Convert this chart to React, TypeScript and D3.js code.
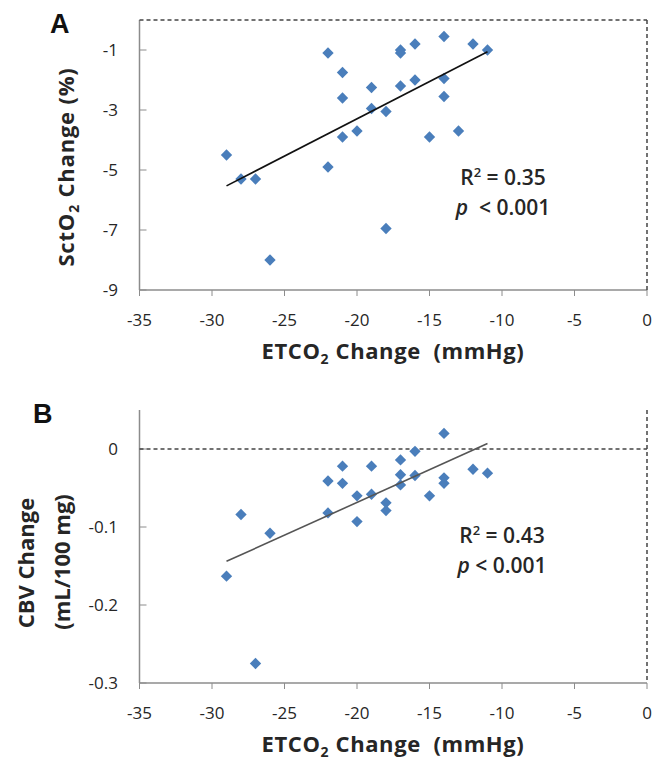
import React from "react";
import * as d3 from "d3";

// ---- data ----
const xTicks = [-35, -30, -25, -20, -15, -10, -5, 0];

const aX = [-29, -28, -27, -26, -22, -22, -21, -21, -21, -20, -19, -19, -18, -18, -17, -17, -17, -16, -16, -15, -14, -14, -14, -13, -12, -11];
const aY = [-4.5, -5.3, -5.3, -8.0, -1.1, -4.9, -1.75, -2.6, -3.9, -3.7, -2.25, -2.95, -3.05, -6.95, -1.0, -1.1, -2.2, -0.8, -2.0, -3.9, -0.55, -1.95, -2.55, -3.7, -0.8, -1.0];
const aTrendX = [-29, -11];
const aTrendY = [-5.53, -1.06];
const aYTicks = [-1, -3, -5, -7, -9];

const bX = [-29, -28, -27, -26, -22, -22, -21, -21, -20, -20, -19, -19, -18, -18, -17, -17, -17, -16, -16, -15, -14, -14, -14, -12, -11];
const bY = [-0.163, -0.084, -0.275, -0.108, -0.041, -0.082, -0.022, -0.044, -0.06, -0.093, -0.022, -0.058, -0.069, -0.079, -0.014, -0.033, -0.046, -0.003, -0.034, -0.06, 0.02, -0.037, -0.044, -0.026, -0.031];
const bTrendX = [-29, -11];
const bTrendY = [-0.144, 0.007];
const bYTicks = [0, -0.1, -0.2, -0.3];
const bYLabels = ["0", "-0.1", "-0.2", "-0.3"];

const BLUE = "#4a7ebb";
const AXIS = "#8c8c8c";
const TXT = "#262626";
const FONT = "'Open Sans', Lato, sans-serif";

type PanelProps = {
  letter: string;
  top: number;
  bottom: number;
  yDomain: [number, number];
  yTicks: number[];
  yLabels: string[];
  xs: number[];
  ys: number[];
  tx: number[];
  ty: number[];
  trendColor: string;
  r2: string;
  pGap: string;
  annoX: number;
  annoY: number;
  yTitle: React.ReactNode;
  letterY: number;
  letterX: number;
};

const left = 139.5;
const right = 647;

function Panel(p: PanelProps) {
  const x = d3.scaleLinear().domain([-35, 0]).range([left, right]);
  const y = d3.scaleLinear().domain(p.yDomain).range([p.bottom, p.top]);
  const diamond = d3.symbol(d3.symbolSquare, 64)() as string;
  const line = d3.line<number>().x((_, i) => x(p.tx[i])).y((d) => y(d));
  const zeroY = y(0);
  return (
    <g>
      <text x={p.letterX} y={p.letterY} fontFamily="'Liberation Sans', Arial, sans-serif" fontWeight="bold" fontSize={27} fill="#111">
        {p.letter}
      </text>
      {/* y axis */}
      <line x1={left} x2={left} y1={p.top} y2={p.bottom} stroke={AXIS} strokeWidth={1.5} />
      {p.yTicks.map((t, i) => (
        <g key={i}>
          <line x1={left} x2={left + 7} y1={y(t)} y2={y(t)} stroke={AXIS} strokeWidth={1} />
          <text x={118} y={y(t) + 6} textAnchor="end" fontFamily={FONT} fontSize={17} fill={TXT}>
            {p.yLabels[i]}
          </text>
        </g>
      ))}
      {/* x axis */}
      <line x1={left} x2={right} y1={p.bottom} y2={p.bottom} stroke={AXIS} strokeWidth={1.5} />
      {xTicks.map((t) => (
        <g key={t}>
          <line x1={x(t)} x2={x(t)} y1={p.bottom} y2={p.bottom + 6} stroke={AXIS} strokeWidth={1} />
          <text x={x(t)} y={p.bottom + 36} textAnchor="middle" fontFamily={FONT} fontSize={17} fill={TXT}>
            {t}
          </text>
        </g>
      ))}
      {/* dashed zero lines */}
      <line x1={left} x2={right} y1={zeroY} y2={zeroY} stroke="#444" strokeWidth={1.5} strokeDasharray="4,3" />
      <line x1={x(0)} x2={x(0)} y1={p.top} y2={p.bottom} stroke="#444" strokeWidth={1.5} strokeDasharray="4,3" />
      {/* points */}
      {p.xs.map((v, i) => (
        <path key={i} d={diamond} transform={`translate(${x(v)},${y(p.ys[i])}) rotate(45)`} fill={BLUE} />
      ))}
      {/* trend */}
      <path d={line(p.ty) as string} stroke={p.trendColor} strokeWidth={1.6} fill="none" />
      {/* annotation */}
      <text x={p.annoX} y={p.annoY} textAnchor="middle" fontFamily={FONT} fontWeight={600} fontSize={21} fill={TXT} xmlSpace="preserve">
        R<tspan dy={-8} fontSize={13}>2</tspan>
        <tspan dy={8}>{" = " + p.r2}</tspan>
      </text>
      <text x={p.annoX} y={p.annoY + 30} textAnchor="middle" fontFamily={FONT} fontWeight={600} fontSize={21} fill={TXT} xmlSpace="preserve">
        <tspan fontStyle="italic">p</tspan>{p.pGap + "< 0.001"}
      </text>
      {/* x title */}
      <text x={393} y={p.bottom + 69} textAnchor="middle" fontFamily={FONT} fontWeight="bold" fontSize={22} letterSpacing={0.6} fill={TXT} xmlSpace="preserve">
        ETCO<tspan dy={5} fontSize={14}>2</tspan>
        <tspan dy={-5}>{" Change  (mmHg)"}</tspan>
      </text>
      {p.yTitle}
    </g>
  );
}

export default function App() {
  return (
    <svg width={655} height={766} style={{ position: "absolute", left: 0, top: 0, background: "#fff" }}>
      <rect width={655} height={766} fill="#fff" />
      <Panel
        letter="A"
        letterX={50}
        letterY={33}
        top={20}
        bottom={290}
        yDomain={[-9, 0]}
        yTicks={aYTicks}
        yLabels={aYTicks.map(String)}
        xs={aX}
        ys={aY}
        tx={aTrendX}
        ty={aTrendY}
        trendColor="#111"
        r2="0.35"
        pGap="  "
        annoX={503}
        annoY={185}
        yTitle={
          <text transform="translate(74,167) rotate(-90)" textAnchor="middle" fontFamily={FONT} fontWeight="bold" fontSize={22} letterSpacing={0.8} fill={TXT}>
            SctO<tspan dy={5} fontSize={14}>2</tspan>
            <tspan dy={-5}> Change (%)</tspan>
          </text>
        }
      />
      <Panel
        letter="B"
        letterX={33}
        letterY={423}
        top={410}
        bottom={683}
        yDomain={[-0.3, 0.05]}
        yTicks={bYTicks}
        yLabels={bYLabels}
        xs={bX}
        ys={bY}
        tx={bTrendX}
        ty={bTrendY}
        trendColor="#555"
        r2="0.43"
        pGap=" "
        annoX={502}
        annoY={543}
        yTitle={
          <g>
            <text transform="translate(34,563) rotate(-90)" textAnchor="middle" fontFamily={FONT} fontWeight="bold" fontSize={22} fill={TXT}>
              CBV Change
            </text>
            <text transform="translate(70,562) rotate(-90)" textAnchor="middle" fontFamily={FONT} fontWeight="bold" fontSize={22} fill={TXT}>
              (mL/100 mg)
            </text>
          </g>
        }
      />
    </svg>
  );
}
